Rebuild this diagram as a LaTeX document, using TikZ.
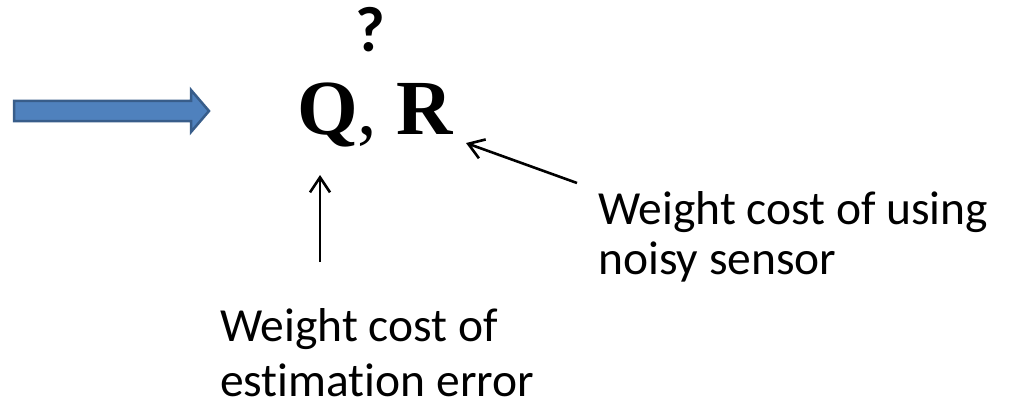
\documentclass[tikz,border=0pt]{standalone}
\usepackage{fontspec}
\setmainfont{Carlito}[Ligatures=NoCommon]
\newfontfamily\qrfont{Liberation Serif}
\usetikzlibrary{arrows.meta}
\definecolor{arrowfill}{HTML}{4F81BD}
\definecolor{arrowline}{HTML}{385D8A}
\begin{document}
\begin{tikzpicture}[x=1pt,y=-1pt,
  lbl/.style={inner sep=0pt,align=left,anchor=base west},
  ptr/.style={line width=2.6pt,-{Straight Barb[length=15pt,width=20pt,line width=2.6pt]}}]
\useasboundingbox (0,0) rectangle (1010,404);
% block arrow
\draw[line width=2.5pt,fill=arrowfill,draw=arrowline,line join=miter]
  (14,101) -- (191,101) -- (191,90) -- (209,111) -- (191,132) -- (191,121) -- (14,121) -- cycle;
% Q, R
\node[inner sep=0pt,anchor=base west,font=\qrfont\fontsize{78}{80}\selectfont] (qr) at (297,135)
  {\textbf{Q}, \textbf{R}};
\node[inner sep=0pt,anchor=base,font=\fontsize{64}{66}\selectfont\bfseries] (quest) at (370,52) {?};
% labels (base = last line)
\node[lbl,font=\fontsize{47.5}{50}\selectfont] (sensor) at (598,274) {Weight cost of using\\noisy sensor};
\node[lbl,font=\fontsize{47.5}{55}\selectfont] (estim) at (220,396) {Weight cost of\\estimation error};
\coordinate (qtip) at (320,175);
\coordinate (qtail) at (320,262);
\coordinate (rtip) at (466,143);
\coordinate (rtail) at (577,183);
\draw[ptr] (qtail) -- (qtip);
\draw[ptr] (rtail) -- (rtip);
\end{tikzpicture}
\end{document}
